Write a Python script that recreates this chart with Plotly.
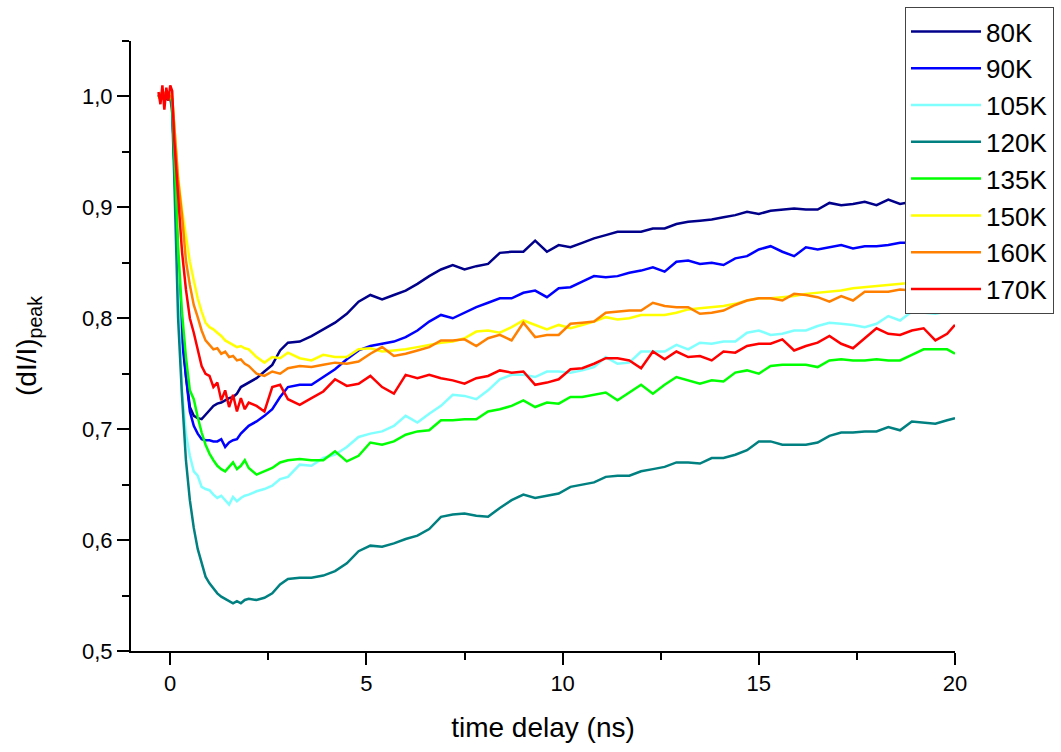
import plotly.graph_objects as go

# time grid (ns)
time_ns = [-0.3, -0.25, -0.2, -0.15, -0.1, -0.05, 0.0, 0.05, 0.1, 0.15,
           0.2, 0.3, 0.4, 0.5, 0.6, 0.7, 0.8, 0.9, 1.0, 1.1, 1.2, 1.3, 1.4, 1.5,
           1.6, 1.7, 1.8, 1.9, 2.0, 2.2, 2.4, 2.6, 2.8,
           3.0, 3.3, 3.6, 3.9, 4.2, 4.5, 4.8, 5.1, 5.4, 5.7, 6.0, 6.3, 6.6, 6.9,
           7.2, 7.5, 7.8, 8.1, 8.4, 8.7, 9.0, 9.3, 9.6, 9.9, 10.2, 10.5, 10.8,
           11.1, 11.4, 11.7, 12.0, 12.3, 12.6, 12.9, 13.2, 13.5, 13.8, 14.1,
           14.4, 14.7, 15.0, 15.3, 15.6, 15.9, 16.2, 16.5, 16.8, 17.1, 17.4,
           17.7, 18.0, 18.3, 18.6, 18.9, 19.2, 19.5, 19.8, 20.0]

k80 = [1.001, 0.998, 1.002, 1.000, 0.997, 1.002, 1.000, 0.992, 0.950, 0.900,
       0.850, 0.790, 0.748, 0.720, 0.712, 0.710, 0.709, 0.713, 0.717, 0.721, 0.723, 0.724, 0.726, 0.728,
       0.729, 0.732, 0.738, 0.740, 0.742, 0.746, 0.752, 0.758, 0.771,
       0.778, 0.779, 0.784, 0.790, 0.796, 0.804, 0.815, 0.821, 0.817, 0.821, 0.825, 0.831, 0.838, 0.844,
       0.848, 0.844, 0.847, 0.849, 0.859, 0.860, 0.860, 0.870, 0.860, 0.866, 0.864, 0.868, 0.872,
       0.875, 0.878, 0.878, 0.878, 0.881, 0.881, 0.885, 0.887, 0.888, 0.889, 0.891,
       0.893, 0.896, 0.894, 0.897, 0.898, 0.899, 0.898, 0.898, 0.904, 0.902, 0.903,
       0.905, 0.902, 0.907, 0.903, 0.905, 0.905, 0.906, 0.906, 0.907]

k90 = [1.002, 0.999, 1.001, 0.998, 1.003, 1.000, 0.999, 0.990, 0.945, 0.890,
       0.840, 0.780, 0.745, 0.716, 0.703, 0.696, 0.691, 0.690, 0.690, 0.689, 0.689, 0.691, 0.684, 0.688,
       0.690, 0.691, 0.696, 0.700, 0.703, 0.707, 0.712, 0.718, 0.729,
       0.738, 0.740, 0.740, 0.747, 0.754, 0.763, 0.771, 0.775, 0.777, 0.779, 0.783, 0.789, 0.797, 0.803,
       0.800, 0.805, 0.810, 0.814, 0.818, 0.818, 0.823, 0.825, 0.819, 0.827, 0.828, 0.833, 0.838,
       0.837, 0.838, 0.841, 0.843, 0.846, 0.842, 0.851, 0.852, 0.849, 0.850, 0.848,
       0.854, 0.856, 0.862, 0.865, 0.860, 0.856, 0.864, 0.862, 0.864, 0.866, 0.863,
       0.865, 0.865, 0.866, 0.868, 0.868, 0.869, 0.870, 0.870, 0.871]

k105 = [0.999, 1.002, 0.998, 1.003, 1.000, 0.998, 1.002, 0.992, 0.945, 0.885,
        0.830, 0.735, 0.696, 0.676, 0.662, 0.658, 0.648, 0.646, 0.645, 0.641, 0.638, 0.640, 0.636, 0.632,
        0.639, 0.635, 0.638, 0.640, 0.641, 0.644, 0.646, 0.649, 0.655,
        0.657, 0.668, 0.667, 0.674, 0.677, 0.684, 0.693, 0.696, 0.698, 0.703, 0.712, 0.706, 0.714, 0.721,
        0.731, 0.730, 0.727, 0.735, 0.745, 0.749, 0.749, 0.747, 0.752, 0.752, 0.751, 0.753, 0.756,
        0.765, 0.759, 0.760, 0.770, 0.770, 0.770, 0.776, 0.772, 0.778, 0.777, 0.779,
        0.779, 0.787, 0.789, 0.785, 0.786, 0.789, 0.789, 0.793, 0.796, 0.795, 0.794,
        0.792, 0.795, 0.802, 0.798, 0.806, 0.805, 0.804, 0.806, 0.809]

k120 = [1.000, 1.001, 0.999, 1.002, 0.998, 1.001, 1.000, 0.985, 0.930, 0.860,
        0.800, 0.730, 0.672, 0.636, 0.611, 0.592, 0.580, 0.567, 0.561, 0.556, 0.552, 0.549, 0.547, 0.545,
        0.543, 0.545, 0.543, 0.546, 0.547, 0.546, 0.548, 0.552, 0.560,
        0.565, 0.566, 0.566, 0.568, 0.572, 0.579, 0.590, 0.595, 0.594, 0.597, 0.601, 0.604, 0.610, 0.621,
        0.623, 0.624, 0.622, 0.621, 0.629, 0.636, 0.641, 0.638, 0.640, 0.642, 0.648, 0.650, 0.652,
        0.657, 0.658, 0.658, 0.662, 0.664, 0.666, 0.670, 0.670, 0.669, 0.674, 0.674,
        0.677, 0.681, 0.689, 0.689, 0.686, 0.686, 0.686, 0.688, 0.694, 0.697, 0.697,
        0.698, 0.698, 0.702, 0.699, 0.707, 0.706, 0.705, 0.708, 0.710]

k135 = [1.001, 0.998, 1.003, 0.999, 1.002, 0.997, 1.001, 0.995, 0.955, 0.910,
        0.865, 0.805, 0.765, 0.735, 0.727, 0.711, 0.697, 0.686, 0.678, 0.672, 0.667, 0.664, 0.662, 0.666,
        0.670, 0.664, 0.667, 0.672, 0.665, 0.659, 0.662, 0.665, 0.670,
        0.672, 0.673, 0.672, 0.672, 0.680, 0.671, 0.676, 0.688, 0.686, 0.689, 0.695, 0.698, 0.699, 0.708,
        0.708, 0.709, 0.709, 0.716, 0.718, 0.721, 0.726, 0.720, 0.724, 0.723, 0.729, 0.729, 0.731,
        0.733, 0.726, 0.733, 0.740, 0.732, 0.740, 0.747, 0.744, 0.741, 0.744, 0.743,
        0.751, 0.753, 0.750, 0.757, 0.758, 0.758, 0.758, 0.756, 0.762, 0.763, 0.762,
        0.762, 0.763, 0.762, 0.762, 0.767, 0.772, 0.772, 0.772, 0.768]

k150 = [0.998, 1.002, 1.000, 0.997, 1.003, 1.001, 1.002, 1.000, 0.975, 0.950,
        0.928, 0.898, 0.874, 0.851, 0.834, 0.818, 0.806, 0.796, 0.792, 0.790, 0.787, 0.784, 0.780, 0.778,
        0.776, 0.774, 0.775, 0.773, 0.772, 0.765, 0.760, 0.765, 0.764,
        0.769, 0.764, 0.762, 0.767, 0.765, 0.765, 0.772, 0.773, 0.770, 0.771, 0.772, 0.774, 0.776, 0.778,
        0.779, 0.782, 0.788, 0.789, 0.787, 0.792, 0.798, 0.794, 0.790, 0.794, 0.791, 0.794, 0.797,
        0.801, 0.799, 0.800, 0.803, 0.803, 0.803, 0.805, 0.808, 0.809, 0.810, 0.811,
        0.813, 0.816, 0.818, 0.818, 0.819, 0.820, 0.822, 0.823, 0.824, 0.825, 0.827,
        0.828, 0.829, 0.830, 0.831, 0.832, 0.832, 0.833, 0.834, 0.834]

k160 = [1.000, 1.003, 0.997, 1.004, 0.999, 1.002, 1.000, 0.998, 0.975, 0.950,
        0.925, 0.893, 0.852, 0.830, 0.812, 0.801, 0.789, 0.780, 0.776, 0.772, 0.773, 0.768, 0.770, 0.765,
        0.766, 0.762, 0.763, 0.759, 0.757, 0.750, 0.748, 0.752, 0.750,
        0.755, 0.757, 0.756, 0.758, 0.760, 0.759, 0.761, 0.768, 0.774, 0.766, 0.768, 0.771, 0.774, 0.780,
        0.780, 0.781, 0.775, 0.782, 0.785, 0.780, 0.796, 0.783, 0.785, 0.785, 0.795, 0.796, 0.797,
        0.805, 0.806, 0.807, 0.807, 0.814, 0.811, 0.810, 0.810, 0.804, 0.805, 0.807,
        0.812, 0.816, 0.818, 0.818, 0.816, 0.822, 0.821, 0.819, 0.815, 0.820, 0.816,
        0.824, 0.824, 0.824, 0.826, 0.825, 0.827, 0.826, 0.828, 0.828]

k170 = [1.004, 0.993, 1.010, 0.988, 1.008, 0.996, 1.010, 1.005, 0.962, 0.935,
        0.905, 0.860, 0.826, 0.800, 0.787, 0.771, 0.757, 0.750, 0.748, 0.738, 0.742, 0.726, 0.735, 0.720,
        0.731, 0.716, 0.728, 0.718, 0.724, 0.721, 0.716, 0.738, 0.740,
        0.727, 0.722, 0.728, 0.734, 0.745, 0.739, 0.741, 0.748, 0.738, 0.732, 0.749, 0.746, 0.749, 0.746,
        0.744, 0.741, 0.746, 0.748, 0.753, 0.751, 0.752, 0.740, 0.742, 0.745, 0.754, 0.755, 0.759,
        0.764, 0.764, 0.762, 0.755, 0.770, 0.763, 0.770, 0.765, 0.766, 0.762, 0.770,
        0.769, 0.775, 0.777, 0.777, 0.781, 0.771, 0.775, 0.778, 0.784, 0.777, 0.773,
        0.782, 0.791, 0.786, 0.785, 0.789, 0.791, 0.780, 0.786, 0.794]

series_names = ["80K", "90K", "105K", "120K", "135K", "150K", "160K", "170K"]
series_values = [k80, k90, k105, k120, k135, k150, k160, k170]
series_colors = ["#00008B", "#0000FF", "#80FFFF", "#008080",
                 "#00FF00", "#FFFF00", "#FF8000", "#FF0000"]

y_tick_vals = [0.5, 0.6, 0.7, 0.8, 0.9, 1.0]
y_tick_text = ["0,5", "0,6", "0,7", "0,8", "0,9", "1,0"]
x_tick_vals = [0, 5, 10, 15, 20]

FONT = "Arial, Liberation Sans, sans-serif"

fig = go.Figure()
for name, vals, col in zip(series_names, series_values, series_colors):
    fig.add_trace(go.Scatter(x=time_ns, y=vals, mode="lines", name=name,
                             line=dict(color=col, width=2.5)))

fig.update_layout(
    width=1061, height=752,
    margin=dict(l=131, r=106, t=41, b=101, autoexpand=False),
    paper_bgcolor="white", plot_bgcolor="white",
    font=dict(family=FONT, color="black", size=22),
    showlegend=True,
    legend=dict(xref="container", yref="container",
                x=905 / 1061, y=1 - 7 / 752, xanchor="left", yanchor="top",
                bgcolor="white", bordercolor="#444444", borderwidth=1,
                font=dict(family=FONT, size=26, color="black"),
                itemwidth=70, tracegroupgap=0),
)
fig.update_xaxes(
    range=[-1, 20], showline=True, linecolor="black", linewidth=2,
    showgrid=False, zeroline=False, ticks="outside", ticklen=12, tickwidth=2,
    tickcolor="black", tickvals=x_tick_vals, tickfont=dict(size=22),
    minor=dict(dtick=2.5, tick0=0, ticks="outside", ticklen=7, tickwidth=2, tickcolor="black"),
    title=dict(text="time delay (ns)", font=dict(size=28), standoff=22),
)
fig.update_yaxes(
    range=[0.5, 1.05], showline=True, linecolor="black", linewidth=2,
    showgrid=False, zeroline=False, ticks="outside", ticklen=12, tickwidth=2,
    tickcolor="black", tickvals=y_tick_vals, ticktext=y_tick_text,
    tickfont=dict(size=22),
    minor=dict(dtick=0.05, tick0=0.5, ticks="outside", ticklen=7, tickwidth=2, tickcolor="black"),
    title=dict(text="(dI/I)<sub>peak</sub>", font=dict(size=28), standoff=37),
)

fig.write_html("out.html")
